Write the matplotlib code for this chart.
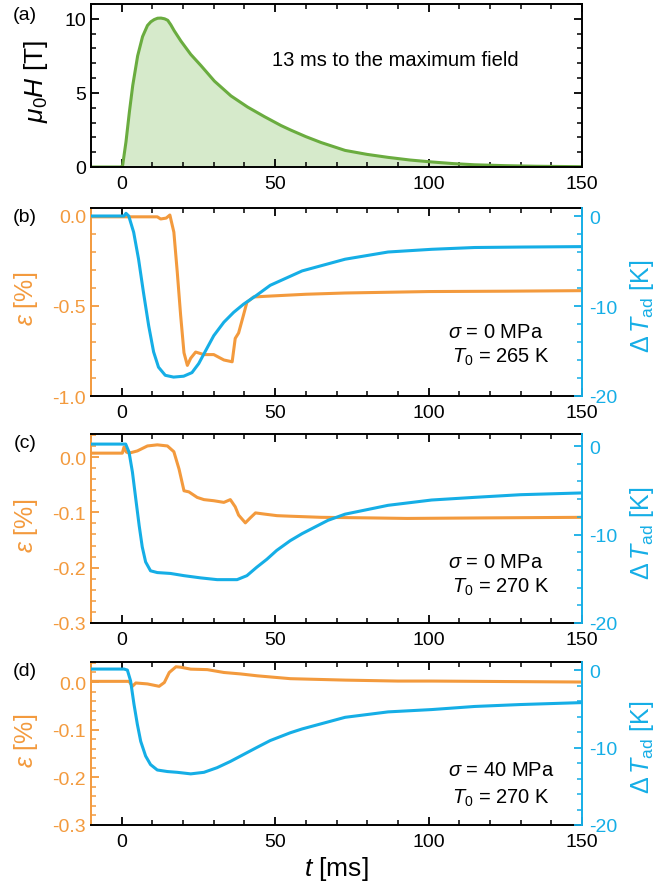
import matplotlib
matplotlib.use("Agg")
import matplotlib.pyplot as plt
from matplotlib.ticker import MultipleLocator, FormatStrFormatter

plt.rcParams["font.family"] = ["Liberation Sans", "DejaVu Sans"]
plt.rcParams["mathtext.fontset"] = "custom"
plt.rcParams["mathtext.rm"] = "Liberation Sans"
plt.rcParams["mathtext.it"] = "Liberation Sans:italic"
plt.rcParams["mathtext.bf"] = "Liberation Sans:bold"
plt.rcParams["axes.unicode_minus"] = False

ORANGE = "#f39a3d"
BLUE = "#15aee6"
GREEN = "#6aac3f"
FILL = "#d6eacb"

# (a) pulsed field
t_field = [-10, 0, 0.3, 1.4, 2.5, 3.6, 5.2, 6.8, 8.4, 9.5, 10.6, 11.7, 12.8, 14,
           15, 16, 17.1, 19.3, 22.5, 25.8, 30.2, 35.6, 41, 46.5, 51.9, 55, 60,
           65, 72.8, 80, 86.8, 94, 101, 108, 115, 125, 135, 150]
field = [0, 0, 0.1, 1.7, 3.7, 5.5, 7.5, 8.8, 9.55, 9.8, 9.95, 10.04, 10.05, 10.0,
         9.9, 9.6, 9.2, 8.5, 7.6, 6.85, 5.8, 4.8, 4.05, 3.4, 2.8, 2.5, 2.05,
         1.65, 1.12, 0.85, 0.65, 0.47, 0.34, 0.23, 0.15, 0.09, 0.05, 0.02]

# (b) sigma = 0 MPa, T0 = 265 K
t_eps_b = [-10, 11.6, 12.7, 14.5, 15.7, 17, 18.1, 19.2, 20.3, 21.4, 22.5, 24.1,
           26.8, 30, 33.3, 36, 37, 38.1, 39.7, 40.8, 43, 48.4, 60, 72.8, 100,
           125, 150]
eps_b = [-0.005, -0.005, -0.017, -0.012, 0.005, -0.09, -0.31, -0.55, -0.76,
         -0.83, -0.79, -0.756, -0.77, -0.77, -0.80, -0.81, -0.68, -0.65, -0.55,
         -0.48, -0.45, -0.445, -0.435, -0.428, -0.42, -0.418, -0.415]
t_dt_b = [-10, 0.75, 1.4, 2.3, 3.9, 5.5, 7.1, 8.8, 10.4, 12.0, 14.2, 16.9, 20.2,
          22.9, 25.1, 27.3, 30, 33.3, 36.5, 39.7, 44, 48.4, 58.8, 72.8, 86.8,
          101, 115, 130, 150]
dt_b = [0, 0, 0.3, 0, -1.8, -4.8, -8.5, -12.2, -15.1, -16.8, -17.7, -17.9,
        -17.8, -17.4, -16.4, -15.0, -13.3, -11.8, -10.7, -9.8, -8.8, -7.7, -6.1,
        -4.8, -4.0, -3.7, -3.5, -3.45, -3.4]

# (c) sigma = 0 MPa, T0 = 270 K
t_eps_c = [-10, 0.2, 0.75, 1.5, 2.4, 5.1, 8.4, 11.6, 14.9, 17, 18.7, 20.3, 21.9,
           24.6, 26.8, 30, 33.3, 35.4, 37, 38.1, 40.3, 41.9, 43.6, 46.3, 50.6,
           55, 65, 80, 93, 120, 150]
eps_c = [0.007, 0.007, 0.018, 0.009, 0.007, 0.011, 0.02, 0.022, 0.02, 0.0096,
         -0.022, -0.061, -0.063, -0.073, -0.077, -0.079, -0.082, -0.077, -0.09,
         -0.105, -0.119, -0.11, -0.101, -0.103, -0.106, -0.107, -0.109, -0.11,
         -0.111, -0.11, -0.109]
t_dt_c = [-10, 1.3, 2.4, 3.5, 4.6, 5.7, 6.7, 7.8, 9.4, 11.6, 15.9, 20.3, 25.7,
          31.1, 37.6, 40.8, 44, 47.3, 50.5, 54.9, 58.8, 67.2, 72.8, 86.8, 101,
          115, 130, 150]
dt_c = [0.22, 0.22, -0.7, -2.95, -6.0, -9.0, -11.4, -13.1, -14.1, -14.3, -14.4,
        -14.65, -14.9, -15.1, -15.1, -14.65, -13.7, -12.8, -11.8, -10.7, -9.9,
        -8.4, -7.7, -6.7, -6.1, -5.8, -5.5, -5.3]

# (d) sigma = 40 MPa, T0 = 270 K
t_eps_d = [-10, 2.4, 3.5, 4.6, 8.4, 12.2, 13.9, 15.5, 17.7, 19.3, 22.5, 27.9,
           33.3, 38.7, 44.2, 49.6, 55, 72.8, 90, 101, 125, 150]
eps_d = [0.0014, 0.0014, -0.009, -0.002, -0.004, -0.009, -0.001, 0.02, 0.032,
         0.031, 0.027, 0.026, 0.02, 0.017, 0.013, 0.01, 0.007, 0.004, 0.002,
         0.002, 0.001, 0.0]
t_dt_d = [-10, 0.75, 1.85, 2.9, 4, 5.1, 6.2, 7.8, 9.4, 11.6, 14.9, 18.1, 22.5,
          26.8, 31.1, 35.4, 39.7, 44, 48.4, 54.9, 58.8, 72.8, 86.8, 101, 115,
          130, 150]
dt_d = [0.13, 0.13, 0, -1.4, -4.4, -7.0, -9.2, -11.1, -12.2, -12.9, -13.1,
        -13.2, -13.4, -13.2, -12.6, -11.8, -10.9, -10.0, -9.1, -8.1, -7.6, -6.1,
        -5.4, -5.1, -4.7, -4.45, -4.2]

panels = [
    ("(b)", t_eps_b, eps_b, t_dt_b, dt_b, (-1.0, 0.044), (-20, 0.89), 0.5, 0.1,
     r"$\sigma$ = 0 MPa", r"$T_{\rm 0}$ = 265 K", (0.342, 0.21)),
    ("(c)", t_eps_c, eps_c, t_dt_c, dt_c, (-0.3, 0.0416), (-20, 1.36), 0.1, 0.02,
     r"$\sigma$ = 0 MPa", r"$T_{\rm 0}$ = 270 K", (0.328, 0.196)),
    ("(d)", t_eps_d, eps_d, t_dt_d, dt_d, (-0.3, 0.042), (-20, 1.04), 0.1, 0.02,
     r"$\sigma$ = 40 MPa", r"$T_{\rm 0}$ = 270 K", (0.34, 0.17)),
]

fig = plt.figure(figsize=(6.72, 8.87), dpi=100)
left, width = 91 / 672, 491 / 672
boxes = [(5, 168), (209, 397), (435, 624), (663, 826)]


def box(top, bottom):
    return [left, (887 - bottom) / 887, width, (bottom - top) / 887]


def style_x(ax):
    ax.set_xlim(-10, 150)
    ax.xaxis.set_major_locator(MultipleLocator(50))
    ax.xaxis.set_minor_locator(MultipleLocator(10))
    ax.tick_params(axis="x", which="both", direction="in", top=True,
                   colors="black", labelsize=14, pad=6)
    ax.tick_params(which="major", length=6, width=1.3)
    ax.tick_params(which="minor", length=3.5, width=1.1)
    for s in ax.spines.values():
        s.set_linewidth(1.4)


# panel (a)
ax = fig.add_axes(box(*boxes[0]))
ax.fill_between(t_field, field, 0, color=FILL, lw=0)
ax.plot(t_field, field, color=GREEN, lw=2.2)
style_x(ax)
ax.set_ylim(0, 11)
ax.yaxis.set_major_locator(MultipleLocator(5))
ax.yaxis.set_minor_locator(MultipleLocator(1))
ax.tick_params(axis="y", which="both", direction="in", right=True, labelsize=14)
ax.set_ylabel(r"$\mu_{\rm 0}H$ [T]", fontsize=19)
ax.yaxis.set_label_coords(-0.083, 0.53)
ax.text(0.369, 0.66, "13 ms to the maximum field", transform=ax.transAxes,
        fontsize=14.5, va="center", ha="left")
fig.text(0.037, 0.983, "(a)", fontsize=14, ha="center", va="center")

for (lab, te, ev, td, dv, ylim_e, ylim_d, emaj, emin, s1, s2, ty), (top, bot) in zip(panels, boxes[1:]):
    ax = fig.add_axes(box(top, bot))
    ax.plot(te, ev, color=ORANGE, lw=2.2)
    style_x(ax)
    ax.set_ylim(*ylim_e)
    ax.yaxis.set_major_locator(MultipleLocator(emaj))
    ax.yaxis.set_minor_locator(MultipleLocator(emin))
    ax.yaxis.set_major_formatter(FormatStrFormatter("%.1f"))
    ax.tick_params(axis="y", which="both", direction="in", colors=ORANGE,
                   labelsize=14, right=False)
    ax.spines["left"].set_color(ORANGE)
    ax.spines["right"].set_visible(False)
    ax.set_ylabel(r"$\varepsilon$ [%]", fontsize=18, color=ORANGE)
    ax.yaxis.set_label_coords(-0.104, 0.52)

    tw = ax.twinx()
    tw.plot(td, dv, color=BLUE, lw=2.2)
    tw.set_ylim(*ylim_d)
    tw.yaxis.set_major_locator(MultipleLocator(10))
    tw.yaxis.set_minor_locator(MultipleLocator(2))
    tw.tick_params(axis="y", which="both", direction="in", colors=BLUE,
                   labelsize=14, pad=5)
    tw.tick_params(which="major", length=6, width=1.3)
    tw.tick_params(which="minor", length=3.5, width=1.1)
    tw.spines["right"].set_color(BLUE)
    tw.spines["right"].set_linewidth(1.4)
    tw.spines["left"].set_visible(False)
    tw.spines["top"].set_visible(False)
    tw.spines["bottom"].set_visible(False)
    tw.set_ylabel(r"$\Delta\,T_{\rm ad}$ [K]", fontsize=18, color=BLUE)
    tw.yaxis.set_label_coords(1.094, 0.48)

    ax.text(0.727, ty[0], s1, transform=ax.transAxes, fontsize=14.5, va="center")
    ax.text(0.735, ty[1], s2, transform=ax.transAxes, fontsize=14.5, va="center")
    fig.text(0.037, 1 - (top + 9) / 887, lab, fontsize=14, ha="center", va="center")

    if lab == "(d)":
        ax.set_xlabel(r"$t$ [ms]", fontsize=19)
        ax.xaxis.set_label_coords(0.5, -0.175)

fig.savefig("out.png", dpi=100)
